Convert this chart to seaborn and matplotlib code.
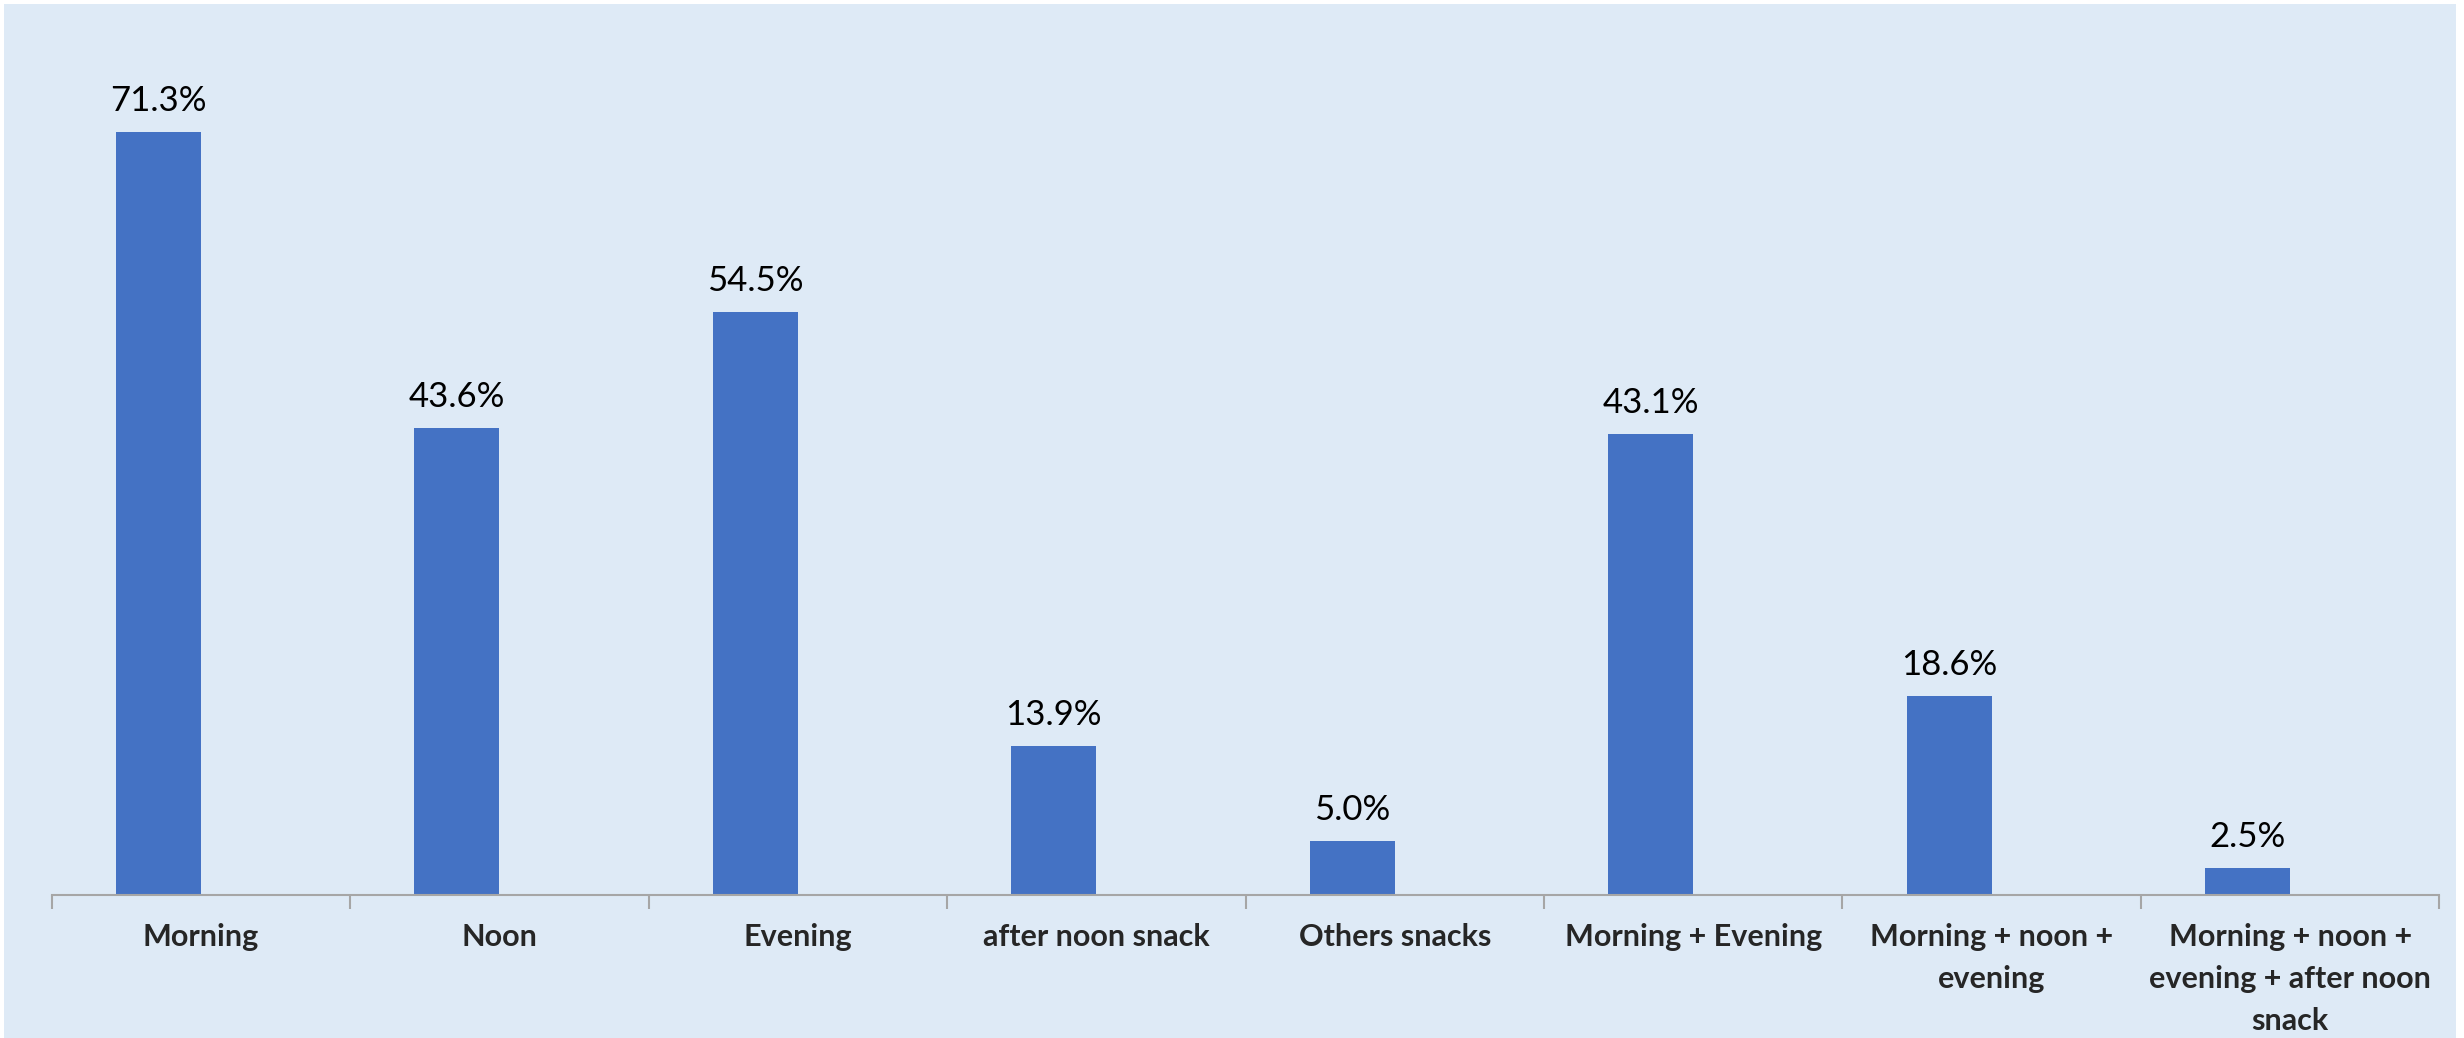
import matplotlib
matplotlib.use("Agg")
import matplotlib.pyplot as plt
import seaborn as sns
import pandas as pd
from matplotlib.patches import Rectangle

categories = ["Morning", "Noon", "Evening", "after noon snack", "Others snacks",
              "Morning + Evening", "Morning + noon +\nevening",
              "Morning + noon +\nevening + after noon\nsnack"]
values = [71.3, 43.6, 54.5, 13.9, 5.0, 43.1, 18.6, 2.5]
empty_series = [0, 0, 0, 0, 0, 0, 0, 0]
value_labels = ["71.3%", "43.6%", "54.5%", "13.9%", "5.0%", "43.1%", "18.6%", "2.5%"]

sns.set_theme(style="white")
plt.rcParams['font.family'] = ['Lato', 'DejaVu Sans']

df = pd.DataFrame({
    "cat": categories * 2,
    "val": values + empty_series,
    "series": ["data"] * len(categories) + ["empty"] * len(categories),
})

fig = plt.figure(figsize=(24.64, 10.38), dpi=100, facecolor="white")
bg = Rectangle((4 / 2464, 0), (2456 - 4) / 2464, (1038 - 4) / 1038,
               transform=fig.transFigure, facecolor="#DEEAF6",
               edgecolor="none", zorder=-10)
fig.patches.append(bg)
ax = fig.add_axes([0.021, 0.138, 0.969, 0.8246])
ax.set_facecolor("none")
ax.set_zorder(1)

sns.barplot(data=df, x="cat", y="val", hue="series", hue_order=["data", "empty"],
            palette={"data": "#4472C4", "empty": "#DEEAF6"}, width=0.57,
            saturation=1, linewidth=0, legend=False, ax=ax)

ax.set_ylim(0, 80)
ax.set_xlim(-0.5, len(categories) - 0.5)
data_bars = ax.containers[0]
for p, lab in zip(data_bars, value_labels):
    ax.annotate(lab, (p.get_x() + p.get_width() / 2, p.get_height()),
                xytext=(0, 15), textcoords="offset points",
                ha="center", va="baseline", fontsize=25, color="black")
for p in ax.containers[1]:
    p.set_visible(False)

for s in ["top", "right", "left"]:
    ax.spines[s].set_visible(False)
ax.spines["bottom"].set_color("#A6A6A6")
ax.spines["bottom"].set_linewidth(1.5)
ax.set_yticks([])
ax.set_xlabel("")
ax.set_ylabel("")
ax.set_xticks(range(len(categories)))
ax.set_xticklabels(categories, fontsize=22, fontweight="bold", linespacing=1.62)
ax.set_xticks([i - 0.5 for i in range(len(categories) + 1)], minor=True)
ax.tick_params(axis="x", which="major", length=0, pad=20)
ax.tick_params(axis="x", which="minor", length=10, width=1.5, color="#A6A6A6", bottom=True)

fig.savefig("out.png", dpi=100, facecolor="white")
